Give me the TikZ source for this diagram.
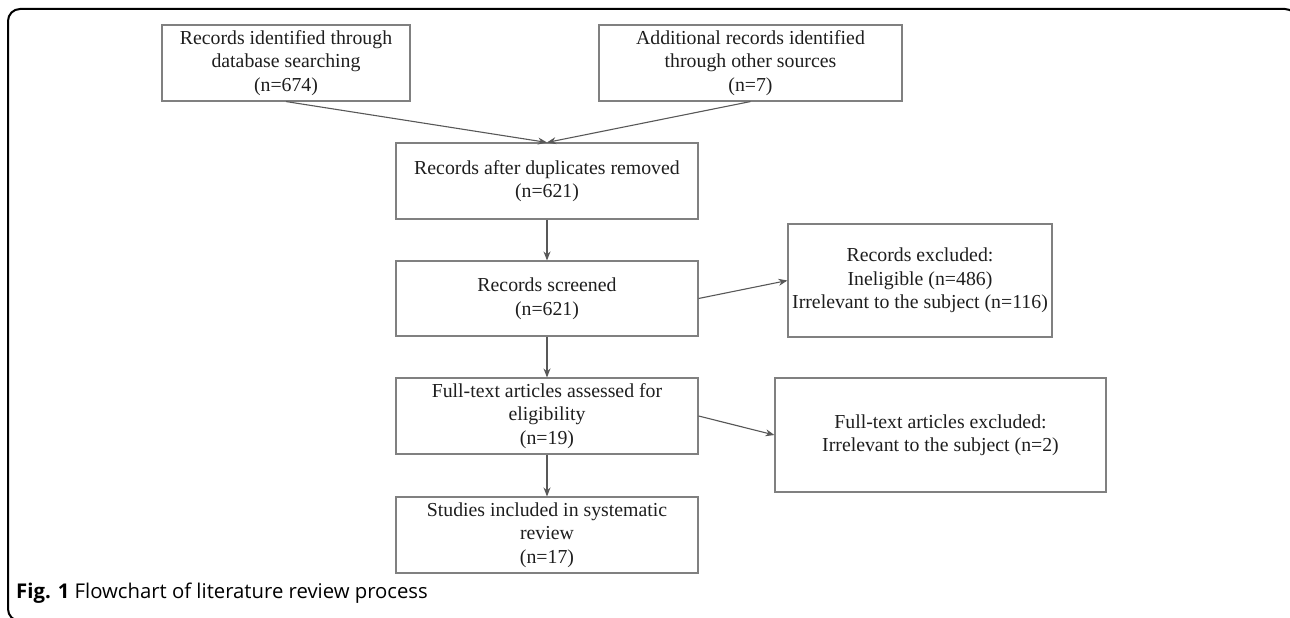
\documentclass[tikz,border=0pt]{standalone}
\usepackage{fontspec}
\setmainfont{Liberation Serif}
\newfontfamily\capfont{Open Sans}
\usetikzlibrary{arrows.meta}
\definecolor{boxgray}{RGB}{128,128,128}
\definecolor{arrgray}{RGB}{88,88,88}
\definecolor{txt}{RGB}{30,30,30}
\tikzset{
  flowbox/.style={draw=boxgray, line width=1.1pt, inner sep=0pt, align=center,
    text=txt, font=\fontsize{19.8}{23.5}\selectfont},
  flowarrow/.style={draw=arrgray, line width=1.1pt, -{Stealth[length=9pt,width=7pt]}}
}
\begin{document}
\begin{tikzpicture}[x=1pt,y=-1pt]
\useasboundingbox (0,0) rectangle (1290,618);
\begin{scope}
\clip (0,0) rectangle (1290,618);
\draw[line width=2pt, rounded corners=12pt] (8,9) rectangle (1297,621);
\end{scope}
\node[flowbox, minimum width=248pt, minimum height=76pt] (b1) at (286,63)
  {Records identified through\\database searching\\(n=674)};
\node[flowbox, minimum width=303pt, minimum height=76pt] (b2) at (750.5,63)
  {Additional records identified\\through other sources\\(n=7)};
\node[flowbox, minimum width=302pt, minimum height=76pt] (b3) at (547,181)
  {Records after duplicates removed\\(n=621)};
\node[flowbox, minimum width=302pt, minimum height=75pt] (b4) at (547,298.5)
  {Records screened\\(n=621)};
\node[flowbox, minimum width=302pt, minimum height=76pt] (b5) at (547,416)
  {Full-text articles assessed for\\eligibility\\(n=19)};
\node[flowbox, minimum width=302pt, minimum height=76pt] (b6) at (547,535)
  {Studies included in systematic\\review\\(n=17)};
\node[flowbox, minimum width=264pt, minimum height=113pt] (b7) at (920,280.5)
  {Records excluded:\\Ineligible (n=486)\\Irrelevant to the subject (n=116)};
\node[flowbox, minimum width=331pt, minimum height=114pt] (b8) at (940.5,435)
  {Full-text articles excluded:\\Irrelevant to the subject (n=2)};
\draw[flowarrow] (b1.south) -- (b3.north);
\draw[flowarrow] (b2.south) -- (b3.north);
\draw[flowarrow] (b3) -- (b4);
\draw[flowarrow] (b4) -- (b5);
\draw[flowarrow] (b5) -- (b6);
\draw[flowarrow] (b4.east) -- (b7.west);
\draw[flowarrow] (b5.east) -- (b8.west);
\node[anchor=base west, inner sep=0pt, font=\capfont\fontsize{20.3}{22}\selectfont] (cap) at (16,598)
  {\textbf{Fig. 1} Flowchart of literature review process};
\end{tikzpicture}
\end{document}
